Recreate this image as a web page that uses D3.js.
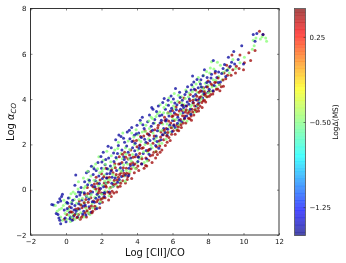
<!DOCTYPE html>
<html>
<head>
<meta charset="utf-8">
<title>Log alpha CO vs Log [CII]/CO</title>
<script src="https://d3js.org/d3.v7.min.js"></script>
<style>
  html, body { margin: 0; padding: 0; background: #fff; }
  svg { display: block; filter: blur(0.3px); }
  text { font-family: "DejaVu Sans", sans-serif; fill: #111; }
  .tick text { font-size: 7px; }
  .domain { display: none; }
  .tick line { stroke: #333; stroke-width: 0.6; }
  .lab { font-size: 10px; }
</style>
</head>
<body>
<svg width="346" height="263"></svg>
<script>
// x = Log [CII]/CO, y = Log alpha_CO
var lowPoints = [[-0.8,-0.65],[-0.7,-0.67],[-0.55,-1.05],[-0.45,-1.1],[-0.35,-1.35],[-0.3,-1.5],[-0.4,-1.25],[-0.3,-0.5],[-0.25,-0.3],[-0.35,-0.4],[-0.2,-0.2],[-0.45,-0.55],
[-0.1,-0.9],[-0.05,-1.25],[0,-1.42],[0.05,-0.55],[0.1,-0.6],[0.2,-1],[0.25,-1.2],[0.3,-0.8],[0.35,-1.35],[0.45,-0.9],[0.5,-0.7],[0.55,-1.05],[0.6,-0.3],[0.65,-1.2],[0.7,-0.1],[0.5,0.2],[0.55,0.65],[0.75,-0.85],
[0.85,0.1],[0.9,-0.45],[1,-0.95],[1.05,0.35],[1.15,0.75],[1.25,0.8],[1.15,-0.3],[1.3,-0.75],[1.4,-1],[1.45,0.2],[1.5,-0.1],[1.6,-0.55],[1.65,0.4],[1.7,0.85],[1.75,-0.2],[1.8,1.2],[1.85,0.6],[1.9,-0.6],[1.95,0.05],[2,0.95],
[2.05,0.5],[2.1,1.65],[2.15,-0.3],[2.2,1.1],[2.25,0.3],[2.3,0.7],[2.4,1.4],[2.45,-0.1],[2.5,1.05],[2.55,1.85],[2.6,0.55],[2.65,0.15],[2.7,1.25],[2.8,2.2],[2.85,0.85],[2.9,1.6],[2.95,1.95],[3,0.45],[3.05,1.15],[3.1,2.35],
[3.15,1.75],[3.2,0.85],[3.25,1.45],[3.3,2.1],[3.35,0.65],[3.4,1.2],[3.45,2.55],[3.5,1.65],[3.55,0.95],[3.6,2.25],[3.65,1.4],[3.7,2.75],[3.75,1.85],[3.8,1.1],[3.85,2.4],[3.9,2.05],[3.95,1.55],[4,2.85],[4.05,1.25],[4.1,2.5],
[4.15,1.95],[4.25,2.3],[4.3,3.2],[4.35,1.6],[4.4,2.7],[4.5,2.1],[4.55,1.35],[4.6,3],[4.65,2.45],[4.7,3.3],[4.75,1.8],[4.8,2.8],[4.9,3.55],[4.95,2.25],[5,3.1],[5.05,1.95],[5.1,3.45],[5.15,2.6],[5.2,3.7],[5.3,2.95],
[5.35,2.2],[5.4,3.3],[5.45,3.85],[5.5,2.7],[5.6,3.55],[5.65,3.1],[5.7,2.4],[5.75,3.95],[5.8,3.25],[5.85,2.85],[5.92,4.14],[5.95,3.6],[6,3.05],[6.05,4],[6.1,3.4],[6.15,2.75],[6.25,3.75],[6.3,3.2],[6.4,4.3],[6.45,3.55],
[6.5,3],[6.55,3.95],[6.6,3.4],[6.7,4.2],[6.75,3.7],[6.8,3.25],[6.85,4.55],[6.95,4],[7,3.55],[7.05,4.4],[7.15,3.85],[7.2,4.75],[7.3,4.2],[7.35,3.7],[7.45,4.5],[7.5,4],[7.6,4.85],[7.65,4.35],[7.7,4.05],[7.8,5.3],[7.9,4.55],
[7.95,4.95],[8,4.3],[8.1,4.75],[8.2,5.1],[8.3,5.7],[8.35,4.6],[8.5,4.95],[8.6,5.2],[8.7,4.75],[8.85,5.35],[9,5],[9.15,5.85],[9.25,5.45],[9.45,6.1],[9.5,5.55],[9.7,5.75],[10,5.55],[9.9,6.35],[10.55,6.85],[10.75,6.9],[11.1,6.85],[10.65,6.55],
[0.13,-0.37],[0.42,-1.17],[0.78,-0.23],[0.33,-0.62],[1.08,-0.68],[1.37,-0.18],[0.94,-1.07],[1.63,0.13],[1.22,0.22],[1.87,-0.32],[1.53,0.67],[2.12,0.13],[1.74,-0.83],[2.33,0.93],[2.07,-0.17],[2.58,0.28],[2.24,1.33],[2.82,1.42],[2.47,0.72],[3.13,0.58],
[2.68,1.62],[3.28,1.33],[2.91,0.33],[3.42,1.93],[3.07,0.97],[3.63,1.07],[3.24,2.27],[3.87,1.72],[3.53,0.63],[4.08,1.43],[3.72,2.13],[4.27,1.13],[3.96,2.47],[4.43,2.23],[4.12,1.83],[4.68,1.57],[4.33,2.87],[4.87,2.63],[4.52,1.73],[5.08,2.37],
[4.73,2.17],[5.23,1.83],[4.92,2.93],[5.37,3.07],[5.13,2.13],[5.58,2.53],[5.27,3.27],[5.73,2.67],[5.43,2.43],[5.88,3.47],[5.62,3.03],[6.07,2.83],[5.77,3.73],[6.22,3.53],[5.98,2.57],[6.37,3.07],[6.13,3.83],[6.53,3.73],[6.28,2.93],[6.68,3.17],
[6.43,4.07],[6.83,3.87],[6.62,3.63],[7.03,3.33],[6.78,4.33],[7.17,4.13],[6.92,3.77],[7.32,3.97],[7.08,4.63],[7.48,3.83],[7.23,4.43],[7.63,4.53],[7.38,4.87],[7.77,4.23],[7.57,4.67],[7.93,4.73],[7.72,5.03],[8.07,4.43],[8.17,4.93],[8.42,5.23],
[8.28,4.37],[8.58,4.73],[8.77,5.13],[8.93,5.53],[9.08,5.27],[9.33,5.63],[7.13,5.02],[6.17,4.47],[5.53,4.03],[4.83,3.63],[4.18,3.07],[3.57,2.63],[2.98,2.42],[2.37,1.92],[1.97,1.47],[1.43,1.03],
[0.07,-0.83],[0.38,-0.47],[0.22,-1.28],[0.72,-0.62],[0.58,-0.93],[0.97,-0.72],[0.82,-0.12],[1.12,-1.12],[1.28,-0.42],[1.03,-0.13],[1.48,-0.53],[1.68,-0.38],[1.32,0.42],[1.88,0.27],[2.17,-0.12],[1.58,0.92],[2.28,0.52],[2.53,0.83],[2.02,1.22],[2.77,0.52]];

var midPoints = [[-0.5,-0.95],[-0.6,-0.7],[-0.3,-1.2],[-0.2,-1.35],[-0.15,-0.7],[-0.05,-1.05],[0,-0.6],[0.05,-1.3],[0.15,-0.85],[0.2,-0.35],[0.25,-1.4],[0.3,-0.55],[0.4,-1.1],[0.4,-0.1],[0.5,-1.3],[0.6,-0.6],[0.65,-0.9],[0.7,0.35],[0.75,-1.25],[0.85,-0.65],
[0.9,-0.1],[1,-1.2],[1.05,-0.55],[1.1,0.15],[1.2,-0.95],[1.25,0.45],[1.3,-0.35],[1.35,-1.1],[1.4,0.6],[1.5,-0.8],[1.55,1],[1.6,0.05],[1.7,-0.75],[1.75,0.35],[1.8,-0.25],[1.85,1.45],[1.9,0.75],[2,-0.4],[2.05,0.2],[2.1,1.3],
[2.15,0.65],[2.2,-0.05],[2.3,1.7],[2.35,0.45],[2.4,0.9],[2.45,0.05],[2.55,1.5],[2.6,0.95],[2.7,0.35],[2.75,1.75],[2.8,0.6],[2.85,1.35],[2.95,2.1],[3,0.9],[3.05,0.35],[3.1,1.6],[3.2,2.5],[3.25,1.1],[3.3,0.6],[3.35,1.85],
[3.4,0.85],[3.5,2.15],[3.55,1.35],[3.6,0.8],[3.7,2.5],[3.75,1.55],[3.8,1],[3.85,2],[3.95,2.65],[4,1.2],[4.05,1.75],[4.1,2.2],[4.2,2.95],[4.25,1.45],[4.3,2.55],[4.4,1.2],[4.45,2],[4.5,2.85],[4.6,1.65],[4.65,2.25],
[4.7,2.7],[4.8,3.2],[4.85,1.85],[4.9,2.5],[5,2.95],[5.05,1.7],[5.1,2.3],[5.15,3.35],[5.25,2.6],[5.3,3.75],[5.4,2.05],[5.45,2.9],[5.5,3.4],[5.6,2.5],[5.65,3.75],[5.7,2.9],[5.8,4.05],[5.85,2.55],[5.9,3.35],[6,2.75],
[6.05,3.7],[6.1,4.25],[6.2,3.1],[6.3,3.9],[6.35,2.85],[6.45,3.35],[6.5,4.1],[6.6,3.05],[6.65,3.75],[6.75,4.4],[6.85,3.5],[6.9,4.1],[7,3.35],[7.1,3.75],[7.15,4.55],[7.25,4],[7.3,3.55],[7.4,4.3],[7.45,4.95],[7.55,3.9],
[7.6,4.55],[7.7,4.2],[7.75,5.05],[7.85,4.7],[7.9,4.1],[8,4.6],[8.1,5.15],[8.15,4.35],[8.2,5.65],[8.3,4.85],[8.45,4.55],[8.6,5],[8.7,5.5],[8.8,4.85],[9,5.25],[9.2,5.15],[9.4,5.75],[9.55,5.35],[9.8,5.6],[10.05,5.85],[10.5,6.2],[10.55,6.6],[10.6,6.35],[10.7,6.7],[10.95,6.65],[11.25,6.7],[11.3,6.55],[11.05,6.75],
[-0.38,-0.87],[0.17,-1.13],[-0.12,-0.47],[0.47,-0.43],[0.83,-1.02],[0.28,-0.18],[1.13,-0.82],[0.68,0.03],[1.47,-0.62],[1.02,0.07],[1.72,-0.07],[1.33,0.33],[1.93,-0.53],[1.58,0.42],[2.18,0.38],[1.78,0.93],[2.42,-0.27],[2.03,0.82],[2.63,0.67],[2.22,1.12],
[2.87,0.17],[2.52,1.23],[3.12,0.82],[2.73,1.07],[3.33,0.37],[2.92,1.82],[3.47,1.13],[3.17,1.37],[3.68,1.27],[3.38,1.57],[3.92,0.93],[3.58,1.77],[4.13,1.37],[3.82,2.33],[4.37,1.67],[4.03,2.43],[4.57,1.27],[4.22,2.13],[4.78,1.97],[4.47,2.57],
[5.02,2.17],[4.67,3.03],[5.22,2.03],[4.88,3.13],[5.42,2.63],[5.07,3.23],[5.63,2.23],[5.28,3.43],[5.83,2.77],[5.52,3.63],[6.03,3.13],[5.72,3.37],[6.23,2.67],[5.93,3.87],[6.43,2.93],[6.12,3.57],[6.63,3.53],[6.33,4.17],[6.82,3.03],[6.52,3.83],
[7.02,3.67],[6.72,4.03],[7.22,3.43],[6.93,4.27],[7.42,3.73],[7.12,4.33],[7.62,4.03],[7.33,4.67],[7.82,4.37],[7.52,4.77],[8.03,4.27],[7.72,4.47],[8.23,4.53],[7.92,5.22],[8.43,4.83],[8.13,5.37],[8.63,4.63],[8.33,5.33],[8.83,5.17],[8.53,5.63],[9.13,5.33],
[-0.25,-0.82],[0.08,-0.93],[0.32,-1.23],[0.52,-0.18],[0.63,-1.07],[0.93,-0.38],[0.73,-0.42],[1.17,-0.27],[1.27,-1.02],[0.98,0.52],[1.42,-0.22],[1.62,-0.33],[1.22,0.82],[1.83,0.17],[2.02,-0.2],[1.67,1.13],[2.27,0.27],[2.48,0.43],[2.12,0.93],[2.62,0.13]];

var highPoints = [[-0.1,-1.3],[0.05,-1.1],[0.2,-0.75],[0.35,-1],[0.4,-1.3],[0.55,-0.85],[0.7,-1.1],[0.75,-0.5],[0.8,-1.3],[0.9,-0.8],[0.95,-1.15],[1.05,-0.2],[1.1,-0.75],[1.15,-1.2],[1.2,0.1],[1.25,-0.55],[1.3,-1.05],[1.4,-0.35],[1.5,-0.95],[1.55,-0.5],
[1.6,0.25],[1.65,-0.85],[1.7,0.55],[1.8,-0.45],[1.85,0.05],[1.9,-0.8],[2,-0.15],[2,0.7],[2.05,-0.55],[2.15,0.3],[2.2,-0.35],[2.25,0.95],[2.35,-0.1],[2.4,-0.45],[2.45,0.55],[2.5,0.1],[2.55,-0.3],[2.65,0.75],[2.7,-0.15],[2.75,1.15],
[2.8,0.25],[2.85,-0.1],[2.95,0.55],[3,1.45],[3.05,0.15],[3.1,0.75],[3.15,1.2],[3.2,0.4],[3.3,1.65],[3.35,0.3],[3.4,0.95],[3.45,0.45],[3.5,1.35],[3.55,0.7],[3.65,1.75],[3.7,0.5],[3.75,1.2],[3.8,2.15],[3.85,0.75],[3.9,1.45],
[3.95,0.95],[4,1.9],[4.05,1.05],[4.1,0.85],[4.15,1.6],[4.2,2.35],[4.25,1.15],[4.35,1.85],[4.4,0.95],[4.45,2.6],[4.5,1.4],[4.55,1.05],[4.6,2.05],[4.65,1.3],[4.7,2.4],[4.75,1.5],[4.85,1.2],[4.9,2.05],[4.95,1.65],[5,2.65],
[5.05,1.4],[5.1,1.9],[5.15,1.55],[5.2,2.85],[5.25,2.15],[5.3,1.65],[5.35,2.55],[5.4,1.75],[5.5,2.2],[5.55,3.2],[5.6,1.95],[5.65,2.7],[5.7,2.1],[5.75,3.4],[5.8,2.3],[5.9,2.95],[5.95,2.45],[6,3.5],[6.05,2.6],[6.1,3.05],
[6.15,2.45],[6.2,3.65],[6.25,2.85],[6.3,3.3],[6.35,2.6],[6.4,3.85],[6.45,3.1],[6.5,2.75],[6.55,3.5],[6.6,2.95],[6.65,4.05],[6.7,3.25],[6.75,2.95],[6.8,3.7],[6.9,3.15],[6.95,3.45],[7,4.2],[7.05,3.25],[7.1,3.55],[7.15,3.95],
[7.2,3.3],[7.25,3.7],[7.3,4.4],[7.35,3.45],[7.4,3.95],[7.45,3.6],[7.5,4.3],[7.55,3.7],[7.6,4.1],[7.65,3.85],[7.75,4.5],[7.8,3.95],[7.85,4.25],[7.95,4.1],[8,4.8],[8.05,4.35],[8.15,4.2],[8.25,4.6],[8.3,4.35],[8.4,5.15],
[8.45,4.75],[8.55,4.45],[8.65,4.65],[8.75,4.55],[8.85,4.84],[8.9,5.15],[9,4.9],[9.05,5.5],[9.1,5.05],[9.2,5.4],[9.3,5.05],[9.35,5.95],[9.4,5.3],[9.55,5.15],[9.6,5.45],[9.75,5.35],[9.8,5.95],[10,5.3],[10.05,5.6],[10.4,5.7],[10.3,6.05],[10.65,6.15],[10.9,7],[11.1,6.85],
[0.62,-1.23],[0.27,-0.97],[1.07,-1.03],[0.83,-0.68],[1.33,-0.83],[1.12,-0.43],[1.62,-0.73],[1.38,-0.07],[1.83,-0.13],[1.52,0.13],[2.08,-0.37],[1.77,0.27],[2.27,0.12],[1.92,0.43],[2.48,-0.17],[2.13,0.57],[2.67,0.23],[2.32,0.53],[2.88,0.43],[2.57,0.87],
[3.08,0.28],[2.78,0.97],[3.27,0.73],[2.97,1.13],[3.48,0.57],[3.18,1.57],[3.67,0.93],[3.37,1.43],[3.88,1.13],[3.58,1.53],[4.07,1.47],[3.78,1.43],[4.28,1.37],[3.97,2.17],[4.48,1.07],[4.17,1.97],[4.68,1.77],[4.38,2.37],[4.88,1.53],[4.58,2.47],
[5.08,1.67],[4.78,2.57],[5.28,1.93],[4.97,2.37],[5.48,2.43],[5.17,2.73],[5.68,2.37],[5.38,2.97],[5.87,2.17],[5.58,3.07],[6.08,2.87],[5.78,3.03],[6.27,2.63],[5.97,3.23],[6.48,2.87],[6.18,3.33],[6.67,3.13],[6.38,3.47],[6.87,3.37],[6.58,3.73],
[7.07,3.07],[6.77,3.53],[7.27,3.53],[6.98,3.93],[7.47,3.47],[7.18,3.83],[7.67,3.63],[7.37,4.13],[7.87,3.87],[7.58,4.37],[8.07,4.13],[7.78,4.33],[8.27,4.23],[7.97,4.53],[8.47,4.43],[8.18,4.67],[8.67,4.37],[8.38,4.73],[8.87,4.57],[8.57,4.93],
[6.03,3.27],[6.33,2.77],[6.57,3.27],[6.73,3.43],[6.97,3.13],[7.13,3.43],[7.43,3.77],[7.53,4.07],[7.73,3.93],[7.83,4.17],[5.33,2.33],[5.53,2.63],[5.73,2.53],[5.93,2.73],[4.27,1.83],[4.63,1.73],[3.23,0.97],[3.63,1.13],[2.23,0.17],[2.83,0.67],
[0.48,-1.12],[0.68,-0.83],[0.87,-1.22],[1.02,-0.58],[1.18,-0.93],[1.23,-0.17],[1.43,-0.72],[1.47,-1.02],[1.73,-0.53],[1.68,0.03],[1.97,-0.42],[1.88,-0.03],[2.18,-0.18],[2.38,0.33],[2.6,-0.07],[2.72,0.42],[2.92,0.12],[3.02,0.67],[3.22,0.62],[3.42,0.73]];

var lowDelta = -1.45, midDelta = -0.48, highDelta = 0.45;
var xTicks = [-2, 0, 2, 4, 6, 8, 10, 12];
var yTicks = [-2, 0, 2, 4, 6, 8];
var barTicks = [0.25, -0.5, -1.25];

var svg = d3.select("svg");
var x = d3.scaleLinear().domain([-2, 12]).range([30.5, 279]);
var y = d3.scaleLinear().domain([-2, 8]).range([235, 8.5]);
var barY = d3.scaleLinear().domain([-1.5, 0.5]).range([235.5, 8.5]);

// matplotlib jet
var jet = d3.scaleLinear()
    .domain([-1.5, -1.28, -0.8, -0.5, -0.2, 0.28, 0.5])
    .range(["#00007f", "#0000ff", "#00ffff", "#7dff7a", "#ffff00", "#ff0000", "#7f0000"]);

function fmt(d) { return String(d).replace("-", "\u2212"); }

// draw the groups interleaved so no colour sits wholly on top
var points = [];
d3.range(d3.max([lowPoints.length, midPoints.length, highPoints.length])).forEach(function(i) {
  if (highPoints[i]) points.push({p: highPoints[i], d: highDelta});
  if (lowPoints[i]) points.push({p: lowPoints[i], d: lowDelta});
  if (midPoints[i]) points.push({p: midPoints[i], d: midDelta});
});

svg.append("g").selectAll("circle")
    .data(points)
  .enter().append("circle")
    .attr("cx", function(d) { return x(d.p[0]); })
    .attr("cy", function(d) { return y(d.p[1]); })
    .attr("r", 1.5)
    .attr("fill", function(d) { return jet(d.d); })
    .attr("fill-opacity", function(d) { return d.d === midDelta ? 0.75 : 0.75; });

// axes, ticks on all four sides pointing in
svg.append("g").attr("transform", "translate(0,235)")
    .call(d3.axisBottom(x).tickValues(xTicks).tickSize(-2).tickPadding(4).tickFormat(fmt));
svg.append("g").attr("transform", "translate(0,8.5)")
    .call(d3.axisTop(x).tickValues(xTicks).tickSize(-2).tickFormat(""));
svg.append("g").attr("transform", "translate(30.5,0)")
    .call(d3.axisLeft(y).tickValues(yTicks).tickSize(-2).tickPadding(4).tickFormat(fmt));
svg.append("g").attr("transform", "translate(279,0)")
    .call(d3.axisRight(y).tickValues(yTicks).tickSize(-2).tickFormat(""));

svg.append("rect")
    .attr("x", 30.5).attr("y", 8.5)
    .attr("width", 248.5).attr("height", 226.5)
    .attr("fill", "none").attr("stroke", "#222").attr("stroke-width", 0.9);

// colour bar
var bands = d3.range(-1.5, 0.5, 2 / 64);
svg.append("g").selectAll("rect")
    .data(bands)
  .enter().append("rect")
    .attr("x", 294.5)
    .attr("width", 11)
    .attr("y", function(d) { return barY(d + 2 / 64); })
    .attr("height", barY(0) - barY(2 / 64) + 0.3)
    .attr("fill", function(d) { return jet(d + 1 / 64); })
    .attr("fill-opacity", 0.7);

svg.append("rect")
    .attr("x", 294.5).attr("y", 8.5)
    .attr("width", 11).attr("height", 227)
    .attr("fill", "none").attr("stroke", "#555").attr("stroke-width", 0.8);

svg.append("g").attr("transform", "translate(305.5,0)")
    .call(d3.axisRight(barY).tickValues(barTicks).tickSize(-2).tickPadding(4).tickFormat(function(d) {
      return fmt(d3.format(".2f")(d));
    }));

// labels
svg.append("text").attr("class", "lab")
    .attr("x", 155).attr("y", 256).attr("text-anchor", "middle")
    .text("Log [CII]/CO");

var yLab = svg.append("text").attr("class", "lab")
    .attr("transform", "translate(14,122) rotate(-90)").attr("text-anchor", "middle");
yLab.append("tspan").text("Log ");
yLab.append("tspan").attr("font-style", "italic").text("\u03b1");
yLab.append("tspan").attr("font-style", "italic").attr("font-size", "7px").attr("dy", 2).text("CO");

svg.append("text")
    .attr("transform", "translate(338,122) rotate(-90)").attr("text-anchor", "middle")
    .attr("font-size", "7.5px")
    .text("Log\u0394(MS)");
</script>
</body>
</html>
